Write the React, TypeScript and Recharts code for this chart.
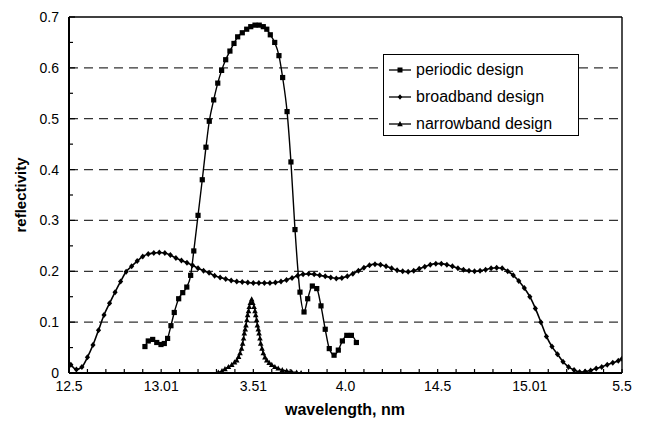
import {
  LineChart,
  Line,
  XAxis,
  YAxis,
  ReferenceLine,
} from "recharts";

// periodic design (squares)
const periodicWavelength = [
  12.912, 12.93, 12.954, 12.976, 12.999, 13.017, 13.035, 13.053, 13.071, 13.095,
  13.117, 13.139, 13.16, 13.177, 13.2, 13.223, 13.243, 13.261, 13.285, 13.307,
  13.328, 13.35, 13.373, 13.395, 13.415, 13.44, 13.464, 13.486, 13.509, 13.532,
  13.554, 13.573, 13.592, 13.616, 13.639, 13.659, 13.683, 13.704, 13.726, 13.753,
  13.775, 13.795, 13.82, 13.844, 13.867, 13.89, 13.912, 13.938, 13.961, 13.983,
  14.007, 14.032, 14.059,
];
const periodicReflectivity = [
  0.052, 0.063, 0.066, 0.06, 0.056, 0.058, 0.068, 0.093, 0.119, 0.146,
  0.158, 0.169, 0.192, 0.24, 0.31, 0.38, 0.444, 0.495, 0.537, 0.57,
  0.595, 0.616, 0.633, 0.648, 0.661, 0.669, 0.676, 0.681, 0.684, 0.684,
  0.681, 0.676, 0.665, 0.65, 0.624, 0.581, 0.514, 0.415, 0.282, 0.159,
  0.12, 0.146, 0.171, 0.166, 0.132, 0.086, 0.048, 0.035, 0.045, 0.063,
  0.074, 0.074, 0.06,
];

// broadband design (diamonds)
const broadbandWavelength = [
  12.51, 12.54, 12.57, 12.6, 12.63, 12.66, 12.69, 12.72, 12.75, 12.78,
  12.81, 12.84, 12.87, 12.9, 12.93, 12.96, 12.99, 13.02, 13.05, 13.08,
  13.11, 13.14, 13.17, 13.2, 13.23, 13.26, 13.29, 13.32, 13.35, 13.38,
  13.41, 13.44, 13.47, 13.5, 13.53, 13.56, 13.59, 13.62, 13.65, 13.68,
  13.71, 13.74, 13.77, 13.8, 13.83, 13.86, 13.89, 13.92, 13.95, 13.98,
  14.01, 14.04, 14.07, 14.1, 14.13, 14.16, 14.19, 14.22, 14.25, 14.28,
  14.31, 14.34, 14.37, 14.4, 14.43, 14.46, 14.49, 14.52, 14.55, 14.58,
  14.61, 14.64, 14.67, 14.7, 14.73, 14.76, 14.79, 14.82, 14.85, 14.88,
  14.91, 14.94, 14.97, 15.0, 15.03, 15.06, 15.09, 15.12, 15.15, 15.18,
  15.21, 15.24, 15.27, 15.3, 15.33, 15.36, 15.39, 15.42, 15.45, 15.48,
  15.5,
];
const broadbandReflectivity = [
  0.016, 0.007, 0.012, 0.031, 0.055, 0.084, 0.114, 0.137, 0.159, 0.18,
  0.199, 0.21, 0.22, 0.229, 0.234, 0.236, 0.237, 0.236, 0.232, 0.226,
  0.221, 0.217, 0.212, 0.206, 0.201, 0.197, 0.191, 0.188, 0.185, 0.182,
  0.18, 0.179, 0.178, 0.177, 0.177, 0.177, 0.177, 0.178, 0.18, 0.183,
  0.187, 0.191, 0.194, 0.195, 0.194, 0.192, 0.19, 0.188, 0.186, 0.187,
  0.19, 0.195, 0.201, 0.207, 0.212, 0.214, 0.213, 0.21, 0.206, 0.202,
  0.2, 0.199, 0.201, 0.205, 0.209, 0.213, 0.215, 0.215, 0.213, 0.21,
  0.206, 0.203, 0.201, 0.2, 0.201, 0.203, 0.206, 0.207, 0.206, 0.2,
  0.192, 0.181, 0.167, 0.15, 0.127, 0.1, 0.072, 0.052, 0.037, 0.022,
  0.012, 0.006, 0.002, 0.003, 0.005, 0.009, 0.012, 0.016, 0.02, 0.024,
  0.028,
];

// narrowband design (triangles)
const narrowbandWavelength = [
  13.31, 13.33, 13.346, 13.365, 13.383, 13.398, 13.41, 13.42, 13.428, 13.436,
  13.442, 13.447, 13.451, 13.456, 13.46, 13.465, 13.469, 13.474, 13.478, 13.484,
  13.491, 13.497, 13.504, 13.509, 13.513, 13.518, 13.522, 13.527, 13.531, 13.536,
  13.54, 13.547, 13.554, 13.563, 13.573, 13.586, 13.6, 13.617, 13.635, 13.657,
  13.681, 13.708, 13.735, 13.759,
];
const narrowbandReflectivity = [
  0.001, 0.004, 0.008, 0.012, 0.016, 0.021, 0.025, 0.032, 0.039, 0.048,
  0.058, 0.068, 0.078, 0.086, 0.094, 0.104, 0.114, 0.122, 0.13, 0.138,
  0.145, 0.138, 0.13, 0.122, 0.114, 0.104, 0.094, 0.086, 0.078, 0.068,
  0.058, 0.048, 0.039, 0.031, 0.025, 0.02, 0.016, 0.012, 0.009, 0.006,
  0.004, 0.002, 0.001, 0.0,
];

const xMajorTicks = [12.5, 13, 13.5, 14, 14.5, 15, 15.5];
const xTickLabels = ["12.5", "13.01", "3.51", "4.0", "14.5", "15.01", "5.5"];
const yMajorTicks = [0, 0.1, 0.2, 0.3, 0.4, 0.5, 0.6, 0.7];
const yTickLabels = ["0", "0.1", "0.2", "0.3", "0.4", "0.5", "0.6", "0.7"];
const gridValues = [0.1, 0.2, 0.3, 0.4, 0.5, 0.6];

const seriesNames = ["periodic design", "broadband design", "narrowband design"];

const toPoints = (xs: number[], ys: number[]) => xs.map((x, i) => ({ x, y: ys[i] }));
const periodicData = toPoints(periodicWavelength, periodicReflectivity);
const broadbandData = toPoints(broadbandWavelength, broadbandReflectivity);
const narrowbandData = toPoints(narrowbandWavelength, narrowbandReflectivity);

const xMinorTicks = Array.from({ length: 31 }, (_, i) => +(12.5 + i * 0.1).toFixed(1));
const yMinorTicks = Array.from({ length: 15 }, (_, i) => +(i * 0.05).toFixed(2));

const FONT = '"Liberation Sans", Arial, Helvetica, sans-serif';

const near = (a: number, b: number) => Math.abs(a - b) < 1e-6;

const XTick = (props: any) => {
  const { x, y, payload } = props;
  const idx = xMajorTicks.findIndex((t) => near(t, payload.value));
  return (
    <g>
      <line x1={x} x2={x} y1={y} y2={y - 4} stroke="#000" strokeWidth={1.2} />
      {idx >= 0 && (
        <text x={x} y={y + 18} textAnchor="middle" fontSize={14} fontFamily={FONT} fill="#000">
          {xTickLabels[idx]}
        </text>
      )}
    </g>
  );
};

const YTick = (props: any) => {
  const { x, y, payload } = props;
  const idx = yMajorTicks.findIndex((t) => near(t, payload.value));
  return (
    <g>
      <line x1={x} x2={x + (idx >= 0 ? 6 : 4)} y1={y} y2={y} stroke="#000" strokeWidth={1.2} />
      {idx >= 0 && (
        <text x={x - 10} y={y + 5} textAnchor="end" fontSize={14} fontFamily={FONT} fill="#000">
          {yTickLabels[idx]}
        </text>
      )}
    </g>
  );
};

const SquareDot = (p: any) =>
  p.cx == null ? <g key={`s${p.index}`} /> : (
    <rect key={`s${p.index}`} x={p.cx - 2.6} y={p.cy - 2.6} width={5.2} height={5.2} fill="#000" />
  );

const DiamondDot = (p: any) =>
  p.cx == null ? <g key={`d${p.index}`} /> : (
    <path
      key={`d${p.index}`}
      d={`M${p.cx},${p.cy - 3}L${p.cx + 2.6},${p.cy}L${p.cx},${p.cy + 3}L${p.cx - 2.6},${p.cy}Z`}
      fill="#000"
    />
  );

const TriangleDot = (p: any) =>
  p.cx == null ? <g key={`t${p.index}`} /> : (
    <path
      key={`t${p.index}`}
      d={`M${p.cx},${p.cy - 3}L${p.cx + 2.8},${p.cy + 2.2}L${p.cx - 2.8},${p.cy + 2.2}Z`}
      fill="#000"
    />
  );

const legendMarkers = [
  (cx: number, cy: number) => <rect x={cx - 2.5} y={cy - 2.5} width={5} height={5} fill="#000" />,
  (cx: number, cy: number) => (
    <path d={`M${cx},${cy - 2.8}L${cx + 2.3},${cy}L${cx},${cy + 2.8}L${cx - 2.3},${cy}Z`} fill="#000" />
  ),
  (cx: number, cy: number) => (
    <path d={`M${cx},${cy - 3}L${cx + 2.8},${cy + 2.2}L${cx - 2.8},${cy + 2.2}Z`} fill="#000" />
  ),
];

export default function App() {
  return (
    <div
      style={{
        position: "absolute",
        left: 0,
        top: 0,
        width: 649,
        height: 422,
        background: "#fff",
        fontFamily: FONT,
      }}
    >
      <LineChart
        width={649}
        height={422}
        margin={{ top: 17, right: 27, bottom: 0, left: 0 }}
      >
        <XAxis
          dataKey="x"
          type="number"
          domain={[12.5, 15.5]}
          ticks={xMinorTicks}
          interval={0}
          height={49}
          tickSize={0}
          tickMargin={0}
          tickLine={false}
          tick={<XTick />}
          axisLine={{ stroke: "#000", strokeWidth: 2.2 }}
          allowDataOverflow
          label={{
            value: "wavelength, nm",
            content: () => (
              <text x={345} y={415} textAnchor="middle" fontSize={16} fontWeight="bold" fontFamily={FONT} fill="#000">
                wavelength, nm
              </text>
            ),
          }}
        />
        <YAxis
          type="number"
          domain={[0, 0.7]}
          ticks={yMinorTicks}
          interval={0}
          width={69}
          tickSize={0}
          tickMargin={0}
          tickLine={false}
          tick={<YTick />}
          axisLine={{ stroke: "#000", strokeWidth: 2 }}
          allowDataOverflow
          label={{
            value: "reflectivity",
            content: () => (
              <text
                x={22}
                y={195}
                transform="rotate(-90 22 195)"
                textAnchor="middle"
                dominantBaseline="middle"
                fontSize={15}
                fontWeight="bold"
                fontFamily={FONT}
                fill="#000"
              >
                reflectivity
              </text>
            ),
          }}
        />
        {gridValues.map((v) => (
          <ReferenceLine key={v} y={v} stroke="#333" strokeWidth={1.2} strokeDasharray="9 6" />
        ))}
        <ReferenceLine y={0.7} stroke="#000" strokeWidth={1.4} />
        <ReferenceLine x={15.5} stroke="#000" strokeWidth={1.4} />
        <Line
          data={broadbandData}
          dataKey="y"
          name={seriesNames[1]}
          type="monotone"
          stroke="#000"
          strokeWidth={1.6}
          dot={DiamondDot}
          activeDot={false}
          isAnimationActive={false}
        />
        <Line
          data={narrowbandData}
          dataKey="y"
          name={seriesNames[2]}
          type="monotone"
          stroke="#000"
          strokeWidth={1.4}
          dot={TriangleDot}
          activeDot={false}
          isAnimationActive={false}
        />
        <Line
          data={periodicData}
          dataKey="y"
          name={seriesNames[0]}
          type="monotone"
          stroke="#000"
          strokeWidth={1.4}
          dot={SquareDot}
          activeDot={false}
          isAnimationActive={false}
        />
      </LineChart>
      <div
        style={{
          position: "absolute",
          left: 383,
          top: 54,
          width: 196,
          height: 82,
          boxSizing: "border-box",
          border: "1px solid #000",
          background: "#fff",
        }}
      >
        {seriesNames.map((name, i) => (
          <div
            key={name}
            style={{
              position: "absolute",
              left: 4,
              top: 4 + i * 27,
              height: 22,
              display: "flex",
              alignItems: "center",
              whiteSpace: "nowrap",
            }}
          >
            <svg width={24} height={12} style={{ marginRight: 4 }}>
              <line x1={1} x2={23} y1={6} y2={6} stroke="#000" strokeWidth={1.3} />
              {legendMarkers[i](12, 6)}
            </svg>
            <span style={{ fontSize: 16, color: "#000" }}>{name}</span>
          </div>
        ))}
      </div>
    </div>
  );
}
